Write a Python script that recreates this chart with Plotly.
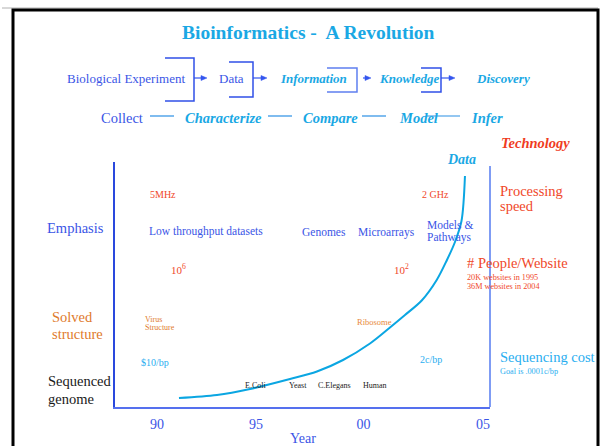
import plotly.graph_objects as go

# ---------------- data ----------------
years = [1991.01, 1992.76, 1994.28, 1996.12, 1997.36, 1998.56, 1999.8, 2000.72,
         2001.41, 2002.18, 2002.87, 2003.33, 2003.71, 2004.01, 2004.17]
data_volume = [3.67, 4.9, 7.35, 11.43, 14.49, 19.18, 25.92, 32.45,
               37.55, 43.47, 51.84, 59.8, 67.35, 75.92, 94.29]
tick_years = [1990, 1994.55, 1999.5, 2005]
tick_labels = ["90", "95", "00", "05"]

PW, PH = 602, 446          # page size
L, R, T, B = 115, 490, 162, 407   # plot area in page pixels

def px(x):
    return (x - L) / (R - L)

def py(y):
    return (B - y) / (B - T)

FONT = "Liberation Serif, Times New Roman, serif"
BLUE = "#3a55e6"
CYAN = "#1aa8e4"
RED = "#f0482a"
ORANGE = "#e07a2c"
SKY = "#2aaef0"
DARK = "#1a1a1a"

fig = go.Figure()
fig.add_trace(go.Scatter(x=years, y=data_volume, mode="lines",
                         line=dict(color="#0ba6e2", width=2, shape="spline", smoothing=0.9),
                         hoverinfo="skip"))

ann = []

def text(t, x, y, size, color, anchor="left", bold=False, italic=False):
    s = t
    if bold:
        s = "<b>" + s + "</b>"
    if italic:
        s = "<i>" + s + "</i>"
    ann.append(dict(text=s, x=px(x), y=py(y), xref="paper", yref="paper",
                    xanchor=anchor, yanchor="middle", showarrow=False,
                    xshift=-2 if anchor == "left" else 0,
                    font=dict(family=FONT, size=size, color=color)))

# title
text("Bioinformatics -  A Revolution", 308, 33, 19.5, CYAN, anchor="center", bold=True)

# row 1
text("Biological Experiment", 67, 79, 13, BLUE)
text("Data", 219, 79, 13, BLUE)
text("Information", 280, 79, 13, CYAN, bold=True, italic=True)
text("Knowledge", 379, 79, 13, CYAN, bold=True, italic=True)
text("Discovery", 476, 79, 13, CYAN, bold=True, italic=True)

# row 2
text("Collect", 101, 118, 14.5, BLUE)
text("Characterize", 185, 118, 14.5, CYAN, bold=True, italic=True)
text("Compare", 303, 118, 14.5, CYAN, bold=True, italic=True)
text("Model", 399, 118, 14.5, CYAN, bold=True, italic=True)
text("Infer", 471, 118, 14.5, CYAN, bold=True, italic=True)

text("Technology", 501, 143, 14.5, "#f03c1e", bold=True, italic=True)
text("Data", 447, 159, 14, CYAN, bold=True, italic=True)

# right-side categories
text("Processing", 500, 191, 14.5, RED)
text("speed", 500, 206, 14.5, RED)
text("# People/Website", 467, 263, 14.5, RED)
text("20K websites in 1995", 467, 277, 8.2, RED)
text("36M websites in 2004", 467, 286, 8.2, RED)
text("Sequencing cost", 500, 357, 14.5, SKY)
text("Goal is .0001c/bp", 500, 371, 8.2, SKY)

# left-side categories
text("Emphasis", 47, 228, 14.5, BLUE)
text("Solved", 52, 317, 14.5, ORANGE)
text("structure", 52, 334, 14.5, ORANGE)
text("Sequenced", 48, 381, 14.5, DARK)
text("genome", 48, 399, 14.5, DARK)

# inside chart
text("5MHz", 150, 194, 10, RED)
text("2 GHz", 422, 194, 10, RED)
text("Low throughput datasets", 149, 231, 11.5, BLUE)
text("Genomes", 302, 232, 11.5, BLUE)
text("Microarrays", 358, 232, 11.5, BLUE)
text("Models &amp;", 427, 225, 11.5, BLUE)
text("Pathways", 427, 237, 11.5, BLUE)
text("10<sup>6</sup>", 171, 269, 11, RED)
text("10<sup>2</sup>", 394, 269, 11, RED)
text("Virus", 145, 319, 8, ORANGE)
text("Structure", 145, 327, 8, ORANGE)
text("Ribosome", 357, 322, 8.5, "#e88a3c")
text("$10/bp", 141, 362, 10, SKY)
text("2c/bp", 420, 359, 10, SKY)
text("E.Coli", 245, 385, 8, DARK)
text("Yeast", 289, 385, 8, DARK)
text("C.Elegans", 318, 385, 8, DARK)
text("Human", 363, 385, 8, DARK)

# axis title
text("Year", 303, 438, 14, BLUE, anchor="center")

shapes = []

def path(points, color, width, fill=None, closed=False):
    d = "M " + " L ".join(f"{px(a):.5f},{py(b):.5f}" for a, b in points)
    if closed:
        d += " Z"
    s = dict(type="path", path=d, xref="paper", yref="paper",
             line=dict(color=color, width=width))
    if fill:
        s["fillcolor"] = fill
    shapes.append(s)

# arrows in the top flow (line + small filled head)
ARROW = "#3355ee"
for x0, x1 in [(194, 207), (253, 267), (363, 371), (441, 455)]:
    path([(x0, 78), (x1 - 4, 78)], ARROW, 1.2)
    path([(x1 - 6, 75.5), (x1, 78), (x1 - 6, 80.5)], ARROW, 0.5, fill=ARROW, closed=True)

# brackets
path([(165, 58), (194, 58), (194, 101), (165, 101)], "#3050e8", 1.5)
path([(229, 62), (253, 62), (253, 97), (229, 97)], "#3050e8", 1.5)
path([(327, 68), (357, 68), (357, 92), (327, 92)], "#5f7ff0", 1.5)
path([(421, 68), (441, 68), (441, 92), (421, 92)], "#3050e8", 1.5)

# row 2 connectors
for x0, x1 in [(150, 174), (268, 292), (362, 386), (427, 460)]:
    path([(x0, 116), (x1, 116)], "#2a8fe4", 1.2)

# right axis line
path([(R, 166), (R, B)], "#7f9cf4", 2)

# slide frame
path([(2, 8), (598, 8)], "#b0b0b0", 1)
path([(13, 460), (13, 10), (598, 10), (598, 460)], "#000000", 3)

fig.update_layout(
    width=PW, height=PH,
    margin=dict(l=L, r=PW - R, t=T, b=PH - B, pad=0),
    paper_bgcolor="white", plot_bgcolor="white",
    showlegend=False,
    annotations=ann, shapes=shapes,
    xaxis=dict(range=[1988.067, 2005.322], tickvals=tick_years, ticktext=tick_labels,
               showgrid=False, zeroline=False, showline=True, linecolor="#5570ee", linewidth=2,
               ticks="", tickfont=dict(family=FONT, size=14, color=BLUE), ticklabelstandoff=3),
    yaxis=dict(range=[0, 100], showgrid=False, zeroline=False, showticklabels=False,
               showline=True, linecolor="#2a48dd", linewidth=1.5, ticks=""),
)

fig.write_html("out.html", config={"displayModeBar": False},
               post_script="document.body.style.margin='0';document.body.style.overflow='hidden';")
